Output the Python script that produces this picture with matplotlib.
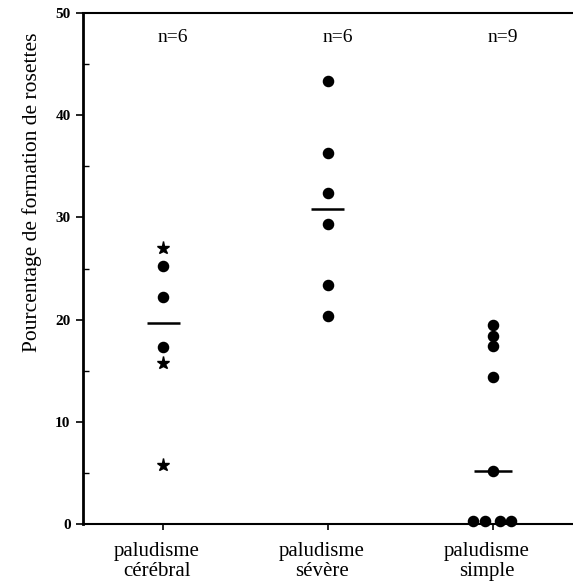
import matplotlib
matplotlib.use("Agg")
import matplotlib.pyplot as plt
import matplotlib.transforms as mtransforms
import numpy as np

# ---- data ----
categories = ["paludisme\ncérébral", "paludisme\nsévère", "paludisme\nsimple"]
n_labels = ["n=6", "n=6", "n=9"]

cerebral_dots = [25.2, 22.2, 17.3]
cerebral_stars = [27.0, 15.8, 5.8]
severe_dots = [43.3, 36.3, 32.4, 29.4, 23.4, 20.4]
simple_dots = [19.5, 18.4, 17.4, 14.4, 5.2, 0.3, 0.3, 0.3, 0.3]
medians = [19.7, 30.8, 5.2]

# layout-only horizontal offsets for the overlapping points at zero
simple_offsets = [0, 0, 0, 0, 0, -0.122, -0.046, 0.045, 0.112]

plt.rcParams['font.family'] = ['Liberation Serif', 'DejaVu Serif']

fig = plt.figure(figsize=(5.73, 5.88), dpi=100)
ax = fig.add_axes([83/573, 1 - 524/588, 1 - 83/573 + 0.01, (524 - 13)/588])

ms_dot = 7.3
ms_star = 9.5

xc = [1, 2, 3]
ax.plot([xc[0]] * len(cerebral_dots), cerebral_dots, 'o', color='black', ms=ms_dot, clip_on=False)
ax.plot([xc[0]] * len(cerebral_stars), cerebral_stars, '*', color='black', ms=ms_star, clip_on=False)
ax.plot([xc[1]] * len(severe_dots), severe_dots, 'o', color='black', ms=ms_dot, clip_on=False)
ax.plot([xc[2] + o for o in simple_offsets], simple_dots, 'o', color='black', ms=ms_dot, clip_on=False)

med_half = [0.1, 0.1, 0.115]
for x, m, h in zip(xc, medians, med_half):
    ax.plot([x - h, x + h], [m, m], color='black', lw=1.8, solid_capstyle='butt')

for x, t in zip(xc, n_labels):
    ax.text(x + 0.06, 47.6, t, ha='center', va='center', fontsize=14)

ax.set_xlim(0.515, 3.52)
ax.set_ylim(0, 50)

ax.set_yticks([0, 10, 20, 30, 40, 50])
ax.set_yticklabels(['0', '10', '20', '30', '40', '50'], fontweight='bold', fontsize=11)
ax.set_yticks([5, 15, 25, 35, 45], minor=True)
ax.tick_params(axis='y', which='major', direction='out', length=5, width=1.2, pad=4)
ax.tick_params(axis='y', which='minor', direction='in', length=4, width=1.0)

ax.set_xticks(xc)
ax.set_xticklabels(categories, fontsize=15, linespacing=1.05)
ax.tick_params(axis='x', which='major', direction='out', length=4, width=1.2, pad=9)
offset = mtransforms.ScaledTranslation(-6/100, 0, fig.dpi_scale_trans)
for lab in ax.get_xticklabels():
    lab.set_transform(lab.get_transform() + offset)

ax.spines['right'].set_visible(False)
ax.spines['left'].set_linewidth(2.0)
ax.spines['top'].set_linewidth(1.5)
ax.spines['bottom'].set_linewidth(1.5)

fig.text(32/573, 1 - 192/588, "Pourcentage de formation de rosettes", rotation=90,
         ha='center', va='center', fontsize=15.5)

fig.savefig("out.png", dpi=100)
